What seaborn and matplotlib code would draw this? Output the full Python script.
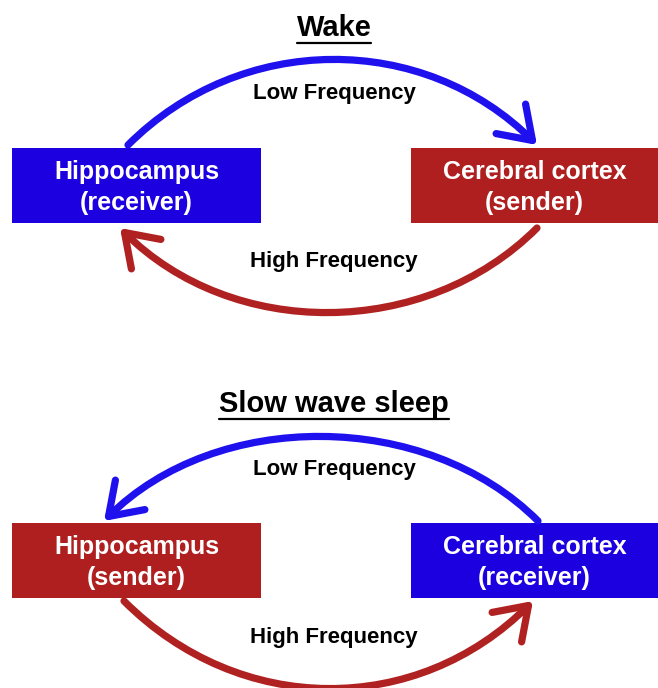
"""
Wake vs slow wave sleep: direction of hippocampus <-> cortex communication.
"""

import numpy as np
import matplotlib
matplotlib.use("Agg")
import matplotlib.pyplot as plt
from matplotlib.patches import Rectangle, FancyArrowPatch
from matplotlib.path import Path
import seaborn as sns

# Diagram content
panel_titles = ["Wake", "Slow wave sleep"]
regions = ["Hippocampus", "Cerebral cortex"]
wake_roles = ["receiver", "sender"]
sws_roles = ["sender", "receiver"]
freq_labels = ["Low Frequency", "High Frequency"]

BLUE = "#1c00e0"
RED = "#b01f1f"
ARC_BLUE = "#1f10ee"
ARC_RED = "#b02222"

sns.set_theme(style="white")
plt.rcParams["font.family"] = ["Liberation Sans", "DejaVu Sans"]

fig = plt.figure(figsize=(6.58, 6.88), dpi=100)
ax = fig.add_axes([0, 0, 1, 1])
ax.set_xlim(0, 658)
ax.set_ylim(688, 0)
ax.axis("off")


def arc_path(x_start, x_end, y_end, apex):
    """Cubic bezier from (x_start, y_end) to (x_end, y_end) bulging to y=apex."""
    k = (y_end - apex) / 0.75
    sgn = 1 if x_end > x_start else -1
    verts = [(x_start, y_end), (x_start + sgn * abs(k), y_end - k),
             (x_end - sgn * abs(k), y_end - k), (x_end, y_end)]
    codes = [Path.MOVETO, Path.CURVE4, Path.CURVE4, Path.CURVE4]
    return Path(verts, codes)


def draw_arc(x_start, x_end, y_end, apex, color):
    arrow = FancyArrowPatch(
        path=arc_path(x_start, x_end, y_end, apex),
        arrowstyle="->,head_length=22,head_width=15",
        mutation_scale=1, lw=5.2, color=color,
        capstyle="round", joinstyle="round",
        shrinkA=0, shrinkB=0,
    )
    ax.add_patch(arrow)


def draw_panel(y0, title, title_base, roles, colors, low_left_to_right):
    # title with underline
    t = ax.text(334, y0 + title_base, title, ha="center", va="baseline",
                fontsize=21, fontweight="bold", color="black")
    fig.canvas.draw()
    bb = t.get_window_extent().transformed(ax.transData.inverted())
    ax.plot([bb.x0, bb.x1], [y0 + title_base + 7, y0 + title_base + 7],
            color="black", lw=1.6)

    # boxes
    box_x = [(12, 261), (411, 660)]
    for (x0, x1), name, role, c in zip(box_x, regions, roles, colors):
        ax.add_patch(Rectangle((x0, y0 + 148), x1 - x0, 75, color=c, lw=0))
        cx = (x0 + min(x1, 658)) / 2
        ax.text(cx, y0 + 179, name, ha="center", va="baseline",
                fontsize=18, fontweight="bold", color="white")
        ax.text(cx, y0 + 210, f"({role})", ha="center", va="baseline",
                fontsize=18, fontweight="bold", color="white")

    # arcs
    if low_left_to_right:
        draw_arc(128, 537, y0 + 145, y0 + 60, ARC_BLUE)
        draw_arc(537, 120, y0 + 228, y0 + 312, ARC_RED)
    else:
        draw_arc(538, 104, y0 + 146, y0 + 62, ARC_BLUE)
        draw_arc(124, 533, y0 + 226, y0 + 313, ARC_RED)

    ax.text(334, y0 + 94, freq_labels[0], ha="center", va="center",
            fontsize=16, fontweight="bold", color="black")
    ax.text(334, y0 + 262, freq_labels[1], ha="center", va="center",
            fontsize=16, fontweight="bold", color="black")


draw_panel(0, panel_titles[0], 36, wake_roles, [BLUE, RED], True)
draw_panel(375, panel_titles[1], 37, sws_roles, [RED, BLUE], False)

fig.savefig("out.png", dpi=100, facecolor="white")
